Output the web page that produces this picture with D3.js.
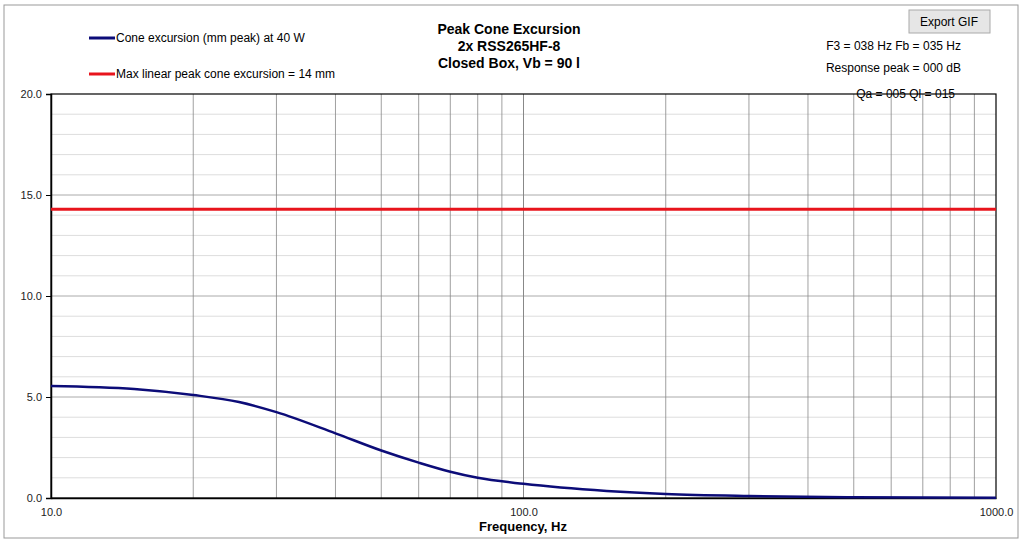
<!DOCTYPE html>
<html><head><meta charset="utf-8">
<script src="https://d3js.org/d3.v7.min.js"></script>
<style>
body{margin:0;background:#fff;font-family:"Liberation Sans",Arial,sans-serif;}
</style></head>
<body><svg id="chart" width="1024" height="545"></svg>
<script>
const freqs = [10, 15, 20, 25, 30, 40, 50, 60, 70, 80, 100, 150, 200, 300, 500, 1000];
const excursion = [5.55, 5.4, 5.1, 4.75, 4.25, 3.2, 2.35, 1.75, 1.3, 1.0, 0.7, 0.35, 0.2, 0.1, 0.04, 0.01];
const xmaxLinear = 14.3;
const yTicks = [0, 5, 10, 15, 20];
const xTicks = [10, 100, 1000];
const titleLines = ["Peak Cone Excursion", "2x RSS265HF-8", "Closed Box, Vb = 90 l"];
const infoLines = ["F3 = 038 Hz  Fb = 035 Hz", "Response peak = 000 dB", "Qa = 005  Ql = 015"];

const svg = d3.select("#chart");
const L = 51, R = 996, T = 94, B = 498;
const x = d3.scaleLog().domain([10, 1000]).range([L, R]);
const y = d3.scaleLinear().domain([0, 20]).range([B, T]);

// outer frame
svg.append("rect").attr("x", 4).attr("y", 5).attr("width", 1014).attr("height", 533)
  .attr("fill", "none").attr("stroke", "#999");

// horizontal grid
d3.range(1, 20).forEach(v => {
  svg.append("line").attr("x1", L).attr("x2", R).attr("y1", y(v)).attr("y2", y(v))
    .attr("stroke", v % 5 == 0 ? "#aaa" : "#ddd").attr("stroke-width", 1);
});
// vertical grid
[20,30,40,50,60,70,80,90,200,300,400,500,600,700,800,900].forEach(f => {
  svg.append("line").attr("x1", x(f)).attr("x2", x(f)).attr("y1", T).attr("y2", B)
    .attr("stroke", "#888").attr("stroke-width", 0.8);
});
svg.append("line").attr("x1", x(100)).attr("x2", x(100)).attr("y1", T).attr("y2", B).attr("stroke", "#888");

// axes
svg.append("g").attr("transform", `translate(0,${B})`)
  .call(d3.axisBottom(x).tickValues(xTicks).tickFormat(d3.format(".1f")).tickSize(0).tickPadding(10))
  .call(g => g.select(".domain").attr("stroke", "#000").attr("stroke-width", 1.5))
  .selectAll("text").attr("font-size", 11).attr("font-family", "Liberation Sans, Arial").attr("fill", "#222");
svg.append("g").attr("transform", `translate(${L},0)`)
  .call(d3.axisLeft(y).tickValues(yTicks).tickFormat(d3.format(".1f")).tickSize(5).tickPadding(4))
  .call(g => g.select(".domain").attr("stroke", "#000").attr("stroke-width", 1.5))
  .selectAll("text").attr("font-size", 11).attr("font-family", "Liberation Sans, Arial").attr("fill", "#222");
svg.append("rect").attr("x", L).attr("y", T).attr("width", R - L).attr("height", B - T)
  .attr("fill", "none").attr("stroke", "#000").attr("stroke-width", 1.2);

// red max line
svg.append("line").attr("x1", L).attr("x2", R).attr("y1", y(xmaxLinear)).attr("y2", y(xmaxLinear))
  .attr("stroke", "#e8141c").attr("stroke-width", 3);

// curve
const line = d3.line().x(d => x(d[0])).y(d => y(d[1])).curve(d3.curveMonotoneX);
svg.append("path").datum(freqs.map((f, i) => [f, excursion[i]]))
  .attr("d", line).attr("fill", "none").attr("stroke", "#0c0c78").attr("stroke-width", 2.5);

// legend
const leg = [["Cone excursion (mm peak) at 40 W", "#0c0c78", 38], ["Max linear peak cone excursion = 14 mm", "#e8141c", 74]];
leg.forEach(([t, c, yy]) => {
  svg.append("line").attr("x1", 89).attr("x2", 115).attr("y1", yy).attr("y2", yy).attr("stroke", c).attr("stroke-width", 3);
  svg.append("text").attr("x", 116).attr("y", yy + 4).attr("font-size", 12).text(t);
});

// title
titleLines.forEach((t, i) => {
  svg.append("text").attr("x", 509).attr("y", 34 + i * 17).attr("text-anchor", "middle")
    .attr("font-size", 14).attr("font-weight", "bold").text(t);
});
svg.append("text").attr("x", 523).attr("y", 531).attr("text-anchor", "middle")
  .attr("font-size", 13).attr("font-weight", "bold").text("Frequency, Hz");

// info
infoLines.forEach((t, i) => {
  svg.append("text").attr("x", 961 - (i == 2 ? 6 : 0)).attr("y", 50 + i * 22 + (i == 2 ? 4 : 0)).attr("text-anchor", "end")
    .attr("font-size", 12).text(t);
});

// button
svg.append("rect").attr("x", 909).attr("y", 10).attr("width", 81).attr("height", 23)
  .attr("fill", "#e6e6e6").attr("stroke", "#aaa");
svg.append("text").attr("x", 949).attr("y", 26).attr("text-anchor", "middle").attr("font-size", 12).text("Export GIF");
</script></body></html>
